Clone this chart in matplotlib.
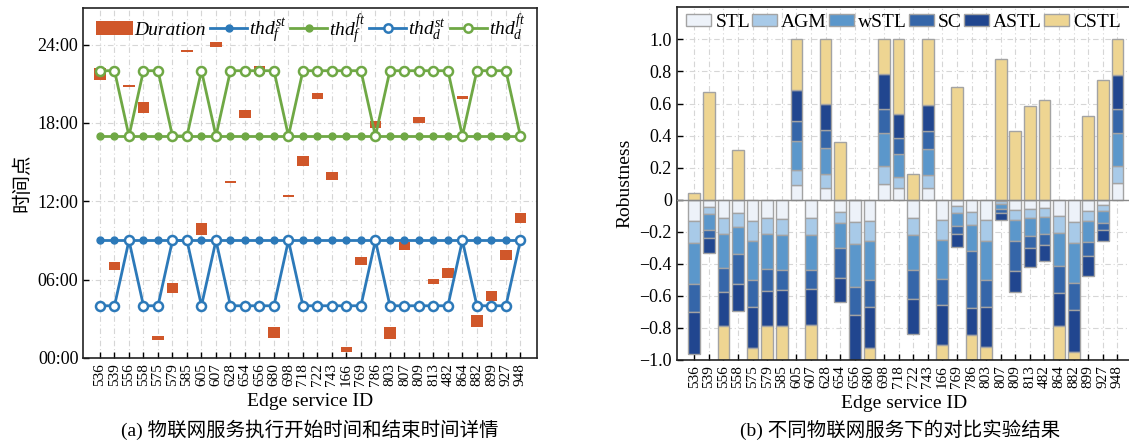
import matplotlib
matplotlib.use("Agg")
import matplotlib.pyplot as plt
from matplotlib.patches import Patch
from matplotlib.lines import Line2D
import numpy as np

plt.rcParams['font.family'] = ['Liberation Serif', 'Noto Sans CJK SC']
plt.rcParams['mathtext.fontset'] = 'custom'
plt.rcParams['mathtext.rm'] = 'Liberation Serif'
plt.rcParams['mathtext.it'] = 'Liberation Serif:italic'
plt.rcParams['axes.unicode_minus'] = True

# service ids (same order in both panels)
ServiceIDs = ['536', '539', '556', '558', '575', '579', '585', '605', '607', '628',
              '654', '656', '680', '698', '718', '722', '743', '166', '769', '786',
              '803', '807', '809', '813', '482', '864', '882', '899', '927', '948']

# (a) start / end of duration bars, in hours
DurationStart = [21.3, 6.7, 20.75, 18.75, 1.38, 5.0, 23.43, 9.43, 23.78, 13.39,
                 18.37, 21.76, 1.5, 12.34, 14.74, 19.87, 13.64, 0.46, 7.13, 17.6,
                 1.43, 8.28, 18.03, 5.67, 6.1, 19.85, 2.4, 4.39, 7.51, 10.37]
DurationEnd = [22.2, 7.38, 20.92, 19.64, 1.69, 5.72, 23.6, 10.37, 24.16, 13.56,
               19.0, 22.38, 2.35, 12.49, 15.43, 20.33, 14.28, 0.87, 7.76, 18.18,
               2.35, 8.85, 18.44, 6.03, 6.87, 20.05, 3.3, 5.16, 8.28, 11.09]
ThdFSt = [9] * 30
ThdFFt = [17] * 30
ThdDSt = [4, 4, 9, 4, 4, 9, 9, 4, 9, 4, 4, 4, 4, 9, 4, 4, 4, 4, 4, 9,
          4, 4, 4, 4, 4, 9, 4, 4, 4, 9]
ThdDFt = [22, 22, 17, 22, 22, 17, 17, 22, 17, 22, 22, 22, 22, 17, 22, 22, 22, 22, 22, 17,
          22, 22, 22, 22, 22, 17, 22, 22, 22, 17]

# (b) robustness per method
Methods = ['STL', 'AGM', 'wSTL', 'SC', 'ASTL', 'CSTL']
STL = [-0.135, -0.046, -0.112, -0.083, -0.131, -0.112, -0.119, 0.09, -0.112, 0.075,
       -0.077, -0.142, -0.133, 0.1, 0.072, -0.112, 0.075, -0.129, -0.04, -0.079,
       -0.129, -0.008, -0.062, -0.056, -0.052, -0.104, -0.14, -0.071, -0.035, 0.104]
AGM = [-0.135, -0.042, -0.104, -0.088, -0.125, -0.104, -0.104, 0.093, -0.11, 0.083,
       -0.069, -0.137, -0.127, 0.108, 0.07, -0.11, 0.081, -0.125, -0.043, -0.081,
       -0.129, -0.017, -0.062, -0.059, -0.056, -0.104, -0.129, -0.065, -0.038, 0.104]
wSTL = [-0.255, -0.098, -0.208, -0.167, -0.244, -0.214, -0.215, 0.184, -0.215, 0.165,
        -0.154, -0.267, -0.244, 0.211, 0.145, -0.219, 0.163, -0.24, -0.082, -0.157,
        -0.242, -0.031, -0.133, -0.114, -0.104, -0.208, -0.25, -0.125, -0.073, 0.211]
SC = [-0.175, -0.054, -0.152, -0.187, -0.169, -0.14, -0.125, 0.125, -0.119, 0.11,
      -0.187, -0.171, -0.167, 0.144, 0.1, -0.177, 0.108, -0.166, -0.052, -0.358,
      -0.171, -0.027, -0.188, -0.073, -0.069, -0.167, -0.169, -0.088, -0.046, 0.146]
ASTL = [-0.26, -0.092, -0.213, -0.171, -0.256, -0.219, -0.223, 0.191, -0.225, 0.163,
        -0.152, -0.283, -0.256, 0.219, 0.15, -0.223, 0.163, -0.246, -0.079, -0.167,
        -0.25, -0.042, -0.131, -0.115, -0.102, -0.208, -0.265, -0.129, -0.067, 0.216]
CSTL = [0.04, 0.673, -0.21, 0.31, -0.075, -0.21, -0.215, 0.317, -0.22, 0.404,
        0.362, 0.0, -0.073, 0.219, 0.463, 0.162, 0.41, -0.094, 0.704, -0.158,
        -0.08, 0.875, 0.429, 0.583, 0.621, -0.21, -0.048, 0.523, 0.746, 0.219]

ORANGE = '#D0572A'
BLUE = '#2C79B9'
GREEN = '#6FA845'
MethodColors = ['#EDF2F9', '#A8CAE8', '#5B97CB', '#3566A9', '#21468F', '#EED592']
GRID = dict(color='#D6D6D6', linestyle=(0, (5, 2.5, 1, 2.5)), linewidth=0.8)

fig = plt.figure(figsize=(11.29, 4.43), dpi=100)
x = np.arange(len(ServiceIDs))

# ---------------- (a)
ax1 = fig.add_axes([0.0738, 0.1919, 0.4019, 0.790])
start = np.array(DurationStart)
end = np.array(DurationEnd)
ax1.bar(x, end - start, bottom=start, width=0.8, color=ORANGE, zorder=2)
ax1.plot(x, ThdFSt, '-o', color=BLUE, lw=2, ms=5, zorder=3)
ax1.plot(x, ThdFFt, '-o', color=GREEN, lw=2, ms=5, zorder=3)
ax1.plot(x, ThdDSt, '-o', color=BLUE, lw=2, ms=6.5, mfc='white', mew=1.8, zorder=4)
ax1.plot(x, ThdDFt, '-o', color=GREEN, lw=2, ms=6.5, mfc='white', mew=1.8, zorder=4)
ax1.set_xlim(-1.15, 30.15)
ax1.set_ylim(0, 26.8)
ax1.set_yticks([0, 6, 12, 18, 24])
ax1.set_yticklabels(['00:00', '06:00', '12:00', '18:00', '24:00'], fontsize=13)
ax1.set_xticks(x)
ax1.set_xticklabels(ServiceIDs, rotation=90, fontsize=11)
ax1.tick_params(direction='in', length=4, width=1)
ax1.grid(True, **GRID)
ax1.set_axisbelow(True)
ax1.set_ylabel('时间点', fontsize=14, family=['Noto Sans CJK SC'], labelpad=4)
ax1.set_xlabel('Edge service ID', fontsize=14, labelpad=5)
handles = [Patch(facecolor=ORANGE),
           Line2D([], [], color=BLUE, lw=2, marker='o', ms=5),
           Line2D([], [], color=GREEN, lw=2, marker='o', ms=5),
           Line2D([], [], color=BLUE, lw=2, marker='o', ms=6, mfc='white', mew=1.8),
           Line2D([], [], color=GREEN, lw=2, marker='o', ms=6, mfc='white', mew=1.8)]
labels = ['Duration', r'$thd_f^{st}$', r'$thd_f^{ft}$', r'$thd_d^{st}$', r'$thd_d^{ft}$']
leg = ax1.legend(handles, labels, loc='upper center', ncol=5, frameon=False, fontsize=14,
                 handlelength=1.9, handletextpad=0.1, columnspacing=0.2,
                 bbox_to_anchor=(0.5, 1.04))
leg.get_texts()[0].set_style('italic')

# ---------------- (b)
ax2 = fig.add_axes([0.5994, 0.1874, 0.4033, 0.796])
pos_bottom = np.zeros(len(x))
neg_bottom = np.zeros(len(x))
for name, vals, col in zip(Methods, [STL, AGM, wSTL, SC, ASTL, CSTL], MethodColors):
    vals = np.array(vals)
    bottom = np.where(vals >= 0, pos_bottom, neg_bottom)
    ax2.bar(x, vals, bottom=bottom, width=0.8, color=col, edgecolor='#A3A3A3',
            linewidth=1, label=name, zorder=2)
    pos_bottom = pos_bottom + np.clip(vals, 0, None)
    neg_bottom = neg_bottom + np.clip(vals, None, 0)
ax2.axhline(0, color='#8A8A8A', lw=1, zorder=3)
ax2.set_xlim(-1.2, 30.0)
ax2.set_ylim(-1.0, 1.2)
yt = np.round(np.arange(-1.0, 1.01, 0.2), 1)
ax2.set_yticks(yt)
ax2.set_yticklabels(['0' if v == 0 else ('%.1f' % v).replace('-', '\u2212') for v in yt],
                    fontsize=13)
ax2.set_xticks(x)
ax2.set_xticklabels(ServiceIDs, rotation=90, fontsize=11)
ax2.tick_params(direction='in', length=4, width=1)
ax2.grid(True, **GRID)
ax2.set_axisbelow(True)
ax2.set_ylabel('Robustness', fontsize=14, labelpad=4)
ax2.set_xlabel('Edge service ID', fontsize=14, labelpad=5)
ax2.legend(loc='upper left', ncol=6, frameon=False, fontsize=14, handlelength=1.3,
           handleheight=0.55, handletextpad=0.2, columnspacing=0.1,
           bbox_to_anchor=(-0.005, 1.015), borderaxespad=0.2)

for ax in (ax1, ax2):
    for s in ax.spines.values():
        s.set_color('#222222')
        s.set_linewidth(1.2)

fig.text(0.2746, 0.029, '(a) 物联网服务执行开始时间和结束时间详情', ha='center', va='center', fontsize=14)
fig.text(0.797, 0.029, '(b) 不同物联网服务下的对比实验结果', ha='center', va='center', fontsize=14)

fig.savefig('out.png', dpi=100)
